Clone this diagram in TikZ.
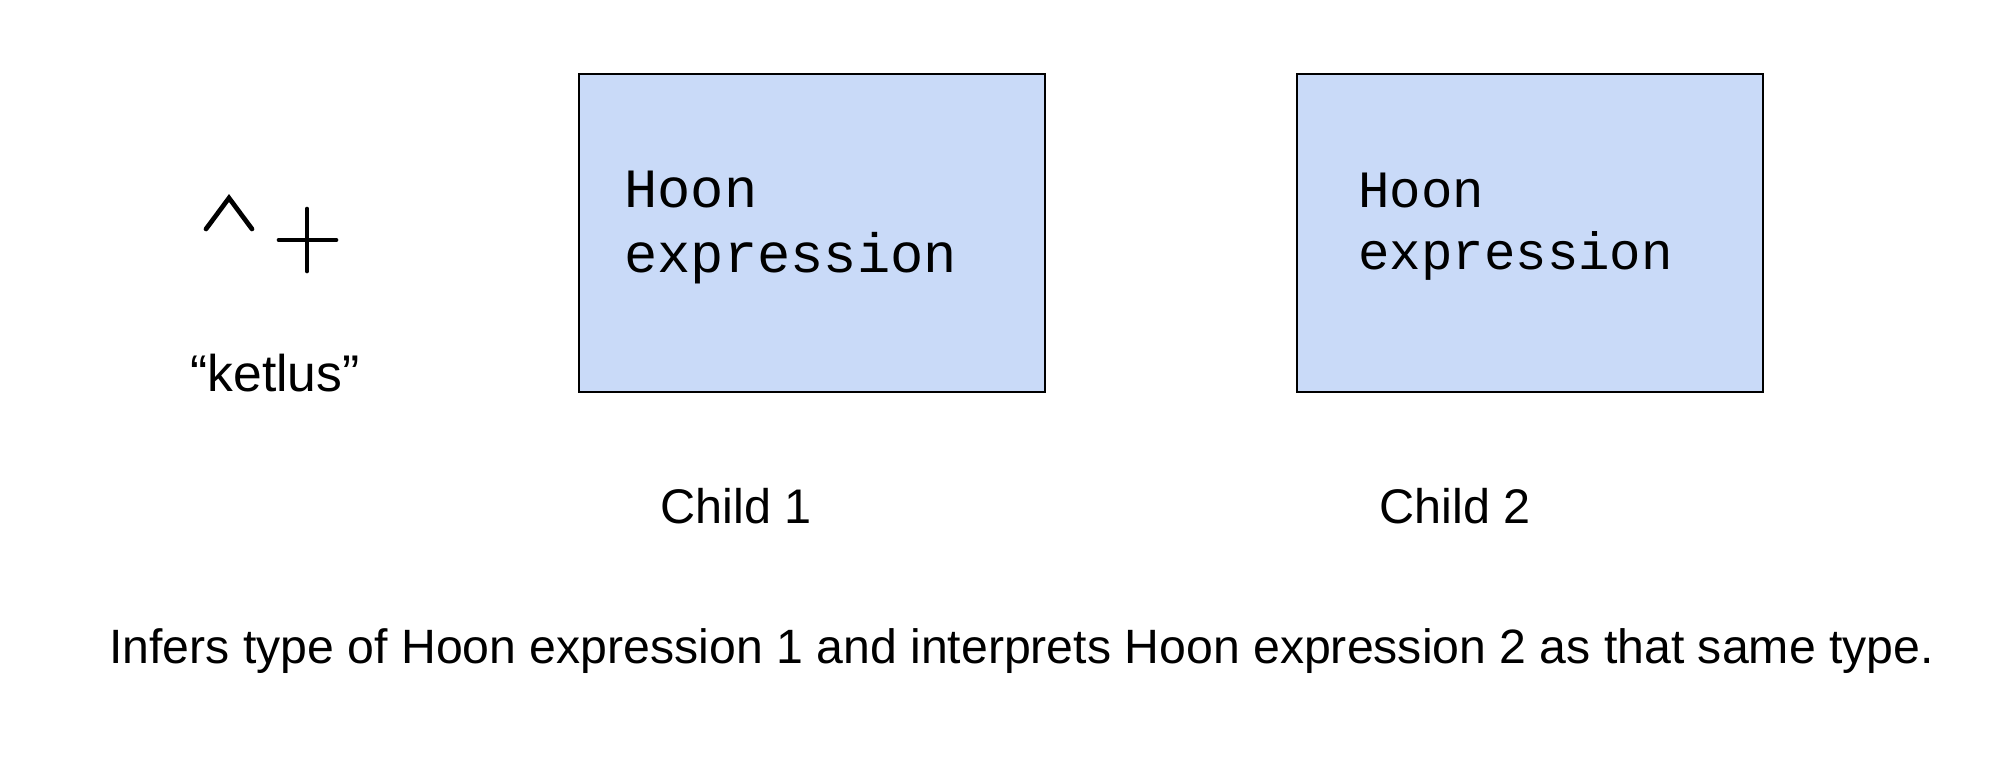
\documentclass[tikz,border=0pt]{standalone}
\usepackage{fontspec}
\setmainfont{Liberation Sans}
\newfontfamily\monofont{Liberation Mono}
\begin{document}
\begin{tikzpicture}[x=0.5pt,y=-0.5pt,
  hoonbox/.style={draw=black,line width=1.4pt,fill=boxblue,inner sep=0pt},
  monotext/.style={anchor=base west,inner sep=0pt,align=left},
  label/.style={anchor=base west,inner sep=0pt,text=black},
  glyph/.style={line width=2.35pt,line cap=round,line join=miter}]
\definecolor{boxblue}{HTML}{C9DAF8}
\useasboundingbox (0,0) rectangle (2008,766);
% boxes
\node[hoonbox,minimum width=233pt,minimum height=159pt] (b1) at (812,233) {};
\node[hoonbox,minimum width=233pt,minimum height=159pt] (b2) at (1530,233) {};
\node[monotext,font=\monofont\fontsize{27.7}{32.5}\selectfont] (t1) at (624,272) {Hoon\\expression};
\node[monotext,font=\monofont\fontsize{26.2}{31}\selectfont] (t2) at (1358,269) {Hoon\\expression};
% ketlus symbol
\coordinate (c1) at (206,229);
\coordinate (c2) at (229,198);
\coordinate (c3) at (252,229);
\draw[glyph] (c1) -- (c2) -- (c3);
\coordinate (p1) at (279,240);
\coordinate (p2) at (336,240);
\coordinate (p3) at (307,209);
\coordinate (p4) at (307,271);
\draw[glyph] (p1) -- (p2) (p3) -- (p4);
\node[label,font=\fontsize{25.8}{30}\selectfont] (k) at (190,391) {“ketlus”};
% child labels
\node[label,font=\fontsize{24.3}{28}\selectfont] (ch1) at (660,523) {Child 1};
\node[label,font=\fontsize{24.3}{28}\selectfont] (ch2) at (1379,523) {Child 2};
% caption
\node[label,font=\fontsize{24.1}{28}\selectfont] (cap) at (109,663) {Infers type of Hoon expression 1 and interprets Hoon expression 2 as that same type.};
\end{tikzpicture}
\end{document}
